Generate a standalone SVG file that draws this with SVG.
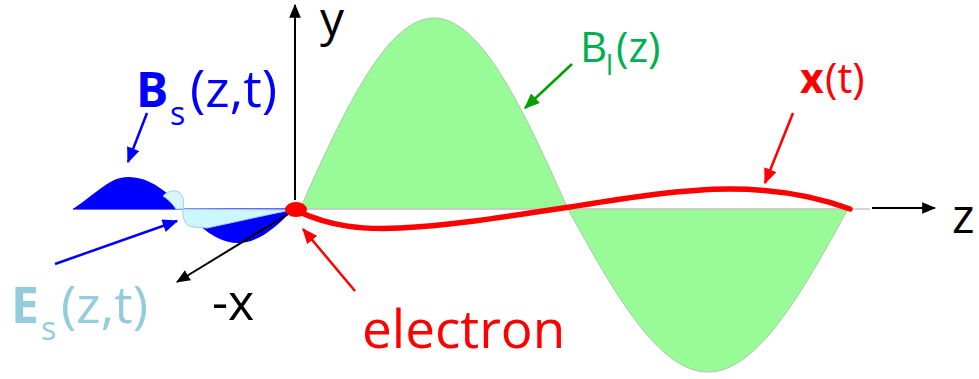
<svg xmlns="http://www.w3.org/2000/svg" width="979" height="379" viewBox="0 0 979 379">
<defs>
<style>
text{font-family:"Open Sans","Liberation Sans",sans-serif}
.ax{stroke:#000;stroke-width:2;fill:none}
.lbl{font-size:50px}
</style>
<marker id="hk" viewBox="0 0 12 10" refX="11" refY="5" markerWidth="14" markerHeight="12" markerUnits="userSpaceOnUse" orient="auto"><path d="M0 0 L12 5 L0 10 Z" fill="#000"/></marker>
<marker id="hb" viewBox="0 0 12 10" refX="11" refY="5" markerWidth="16" markerHeight="13" markerUnits="userSpaceOnUse" orient="auto"><path d="M0 0 L12 5 L0 10 Z" fill="#0000ff"/></marker>
<marker id="hg" viewBox="0 0 12 10" refX="11" refY="5" markerWidth="16" markerHeight="13" markerUnits="userSpaceOnUse" orient="auto"><path d="M0 0 L12 5 L0 10 Z" fill="#00a000"/></marker>
<marker id="hr" viewBox="0 0 12 10" refX="11" refY="5" markerWidth="16" markerHeight="13" markerUnits="userSpaceOnUse" orient="auto"><path d="M0 0 L12 5 L0 10 Z" fill="#ff0000"/></marker>
</defs>
<rect width="979" height="379" fill="#fff"/>

<g id="laser-field">
<path d="M300 209 C344.8 108.7 387 18 434 18 C481 18 523.2 108.7 568 209 C614.8 294.6 658.9 372 708 372 C757.1 372 801.2 294.6 848 209 Z" fill="#98fb98" stroke="#aac8aa" stroke-width="1"/>
<line x1="298" y1="209" x2="870" y2="209" stroke="#c8c8c8" stroke-width="1.5"/>
</g>

<g id="scattered-field">
<line x1="73" y1="209" x2="288" y2="209" stroke="#3030ff" stroke-width="1.5"/>
<path d="M73 209 C98 192 110 177 128 177 C150 177 168 192 183 209 Z" fill="#0000ff"/>
<path d="M163 196 C168 191 175 189 180 193 C184 197 184 203 183 209 L176 209 C172 203 168 199 163 196 Z" fill="#d9f6ff" stroke="#a9c9ea" stroke-width="1"/>
<path d="M200 226 C212 236 224 243 238 243 C258 243 276 228 293 209 L283 212 Z" fill="#0000ff"/>
<path d="M183 209 C182 218 185 226 193 227 L207 228 L290 210 Z" fill="#ccf7ff" stroke="#a9c9ea" stroke-width="1"/>
</g>

<g id="connectors">
<line x1="295" y1="200" x2="295" y2="5" class="ax" marker-end="url(#hk)"/>
<line x1="872" y1="208" x2="935" y2="208" class="ax" marker-end="url(#hk)"/>
<line x1="290" y1="213" x2="177" y2="282" class="ax" marker-end="url(#hk)"/>
<line x1="147" y1="113" x2="128" y2="162" stroke="#0000ff" stroke-width="2.5" marker-end="url(#hb)"/>
<line x1="55" y1="264" x2="177" y2="221" stroke="#0000ff" stroke-width="2.5" marker-end="url(#hb)"/>
<line x1="572" y1="64" x2="525" y2="108" stroke="#00a000" stroke-width="2.5" marker-end="url(#hg)"/>
<line x1="793" y1="113" x2="765" y2="183" stroke="#ff0000" stroke-width="2.5" marker-end="url(#hr)"/>
<line x1="355" y1="291" x2="303" y2="229" stroke="#ff0000" stroke-width="2.5" marker-end="url(#hr)"/>
</g>

<g id="trajectory">
<path d="M297 211 C330 226 360 230 400 228 C460 225 520 214 570 207 C620 199 680 189 730 189 C780 189 820 198 850 209" fill="none" stroke="#ff0000" stroke-width="5.5" stroke-linecap="round"/>
</g>

<g id="electron">
<ellipse cx="296" cy="209.5" rx="11" ry="7.5" fill="#ff0000"/>
<text x="362" y="348" font-size="53" fill="#ff0000">electron</text>
</g>

<g id="label-y"><text x="320" y="36" font-size="48" fill="#000">y</text></g>
<g id="label-z"><text x="952" y="233" font-size="48" fill="#000">z</text></g>
<g id="label-x"><text x="212" y="320" class="lbl" fill="#000">-x</text></g>

<g id="label-Bs">
<text y="107" fill="#0000ff"><tspan x="136" font-size="48" font-weight="bold">B</tspan><tspan x="170" y="125" font-size="32">s</tspan><tspan x="190" y="107" font-size="52">(z,t)</tspan></text>
</g>
<g id="label-Es">
<text y="323" fill="#93cddd"><tspan x="11" font-size="50" font-weight="bold">E</tspan><tspan x="41" y="340" font-size="32">s</tspan><tspan x="61" y="323" font-size="52">(z,t)</tspan></text>
</g>
<g id="label-Bl">
<text y="62" fill="#00b050"><tspan x="580" font-size="42">B</tspan><tspan x="606" y="75" font-size="28">l</tspan><tspan x="616" y="62" font-size="42">(z)</tspan></text>
</g>
<g id="label-xt">
<text y="93" fill="#ff0000"><tspan x="800" font-size="41" font-weight="bold">x</tspan><tspan x="825" font-size="42">(t)</tspan></text>
</g>
</svg>
